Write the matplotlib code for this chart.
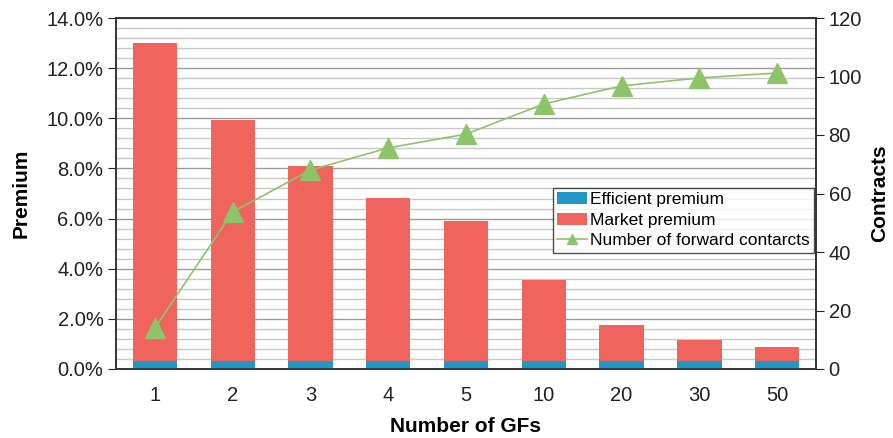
import numpy as np
import matplotlib.pyplot as plt
from matplotlib.ticker import MultipleLocator, FuncFormatter

plt.rcParams['font.family'] = ['Liberation Sans', 'DejaVu Sans']

gfs = ['1', '2', '3', '4', '5', '10', '20', '30', '50']
market_premium = [13.0, 9.95, 8.1, 6.82, 5.9, 3.56, 1.77, 1.17, 0.88]
efficient_premium = [0.33] * 9
contracts = [14, 53.7, 68, 75.6, 80.3, 90.6, 96.8, 99.5, 101.2]

red = '#F0645E'
blue = '#2196C9'
green = '#8DC46A'

fig = plt.figure(figsize=(8.93, 4.38), dpi=100)
ax = fig.add_axes([116 / 893, 1 - 369 / 438, 700 / 893, 351 / 438])
x = np.arange(len(gfs))

ax.bar(x, market_premium, width=0.57, color=red, label='Market premium', zorder=2)
ax.bar(x, efficient_premium, width=0.57, color=blue, label='Efficient premium', zorder=3)

ax.set_xlim(-0.5, len(gfs) - 0.5)
ax.set_ylim(0, 14)
ax.yaxis.set_major_locator(MultipleLocator(2))
ax.yaxis.set_minor_locator(MultipleLocator(0.4))
ax.yaxis.set_major_formatter(FuncFormatter(lambda v, p: f'{v:.1f}%'))
ax.grid(which='minor', axis='y', color='#C8C8C8', linewidth=1, zorder=0)
ax.grid(which='major', axis='y', color='#9A9A9A', linewidth=1, zorder=0)
ax.set_axisbelow(True)
ax.set_xticks(x)
ax.set_xticklabels(gfs)
ax.tick_params(axis='y', which='minor', length=0)
ax.tick_params(axis='y', which='major', length=6, direction='out', labelsize=14.5, colors='#222222', pad=3)
ax.tick_params(axis='x', length=0, labelsize=14.5, colors='#222222', pad=12)
for s in ax.spines.values():
    s.set_color('#333333')
    s.set_linewidth(1.2)
ax.set_xlabel('Number of GFs', fontsize=15, fontweight='bold', labelpad=9)
ax.set_ylabel('Premium', fontsize=15, fontweight='bold', labelpad=11)

ax2 = ax.twinx()
ax2.plot(x, contracts, color=green, linewidth=1.2, marker='^', markersize=14,
         markerfacecolor=green, markeredgecolor=green, label='Number of forward contarcts', zorder=4)
ax2.set_ylim(0, 120)
ax2.yaxis.set_major_locator(MultipleLocator(20))
ax2.tick_params(axis='y', length=6, direction='out', labelsize=14.5, colors='#222222', pad=3)
for s in ax2.spines.values():
    s.set_color('#333333')
    s.set_linewidth(1.2)
ax2.set_ylabel('Contracts', fontsize=15, fontweight='bold', labelpad=6)

h1, l1 = ax.get_legend_handles_labels()
h2, l2 = ax2.get_legend_handles_labels()
leg = ax2.legend([h1[1], h1[0], h2[0]], [l1[1], l1[0], l2[0]],
                 loc='upper left', bbox_to_anchor=(437 / 700, 1 - 170 / 351),
                 fontsize=12.5, frameon=True, fancybox=False, borderpad=0.25,
                 handlelength=1.7, handletextpad=0.2, labelspacing=0.3, borderaxespad=0,
                 markerscale=0.55)
leg.get_frame().set_edgecolor('#222222')
leg.get_frame().set_linewidth(1.0)

fig.savefig('out.png', dpi=100)
